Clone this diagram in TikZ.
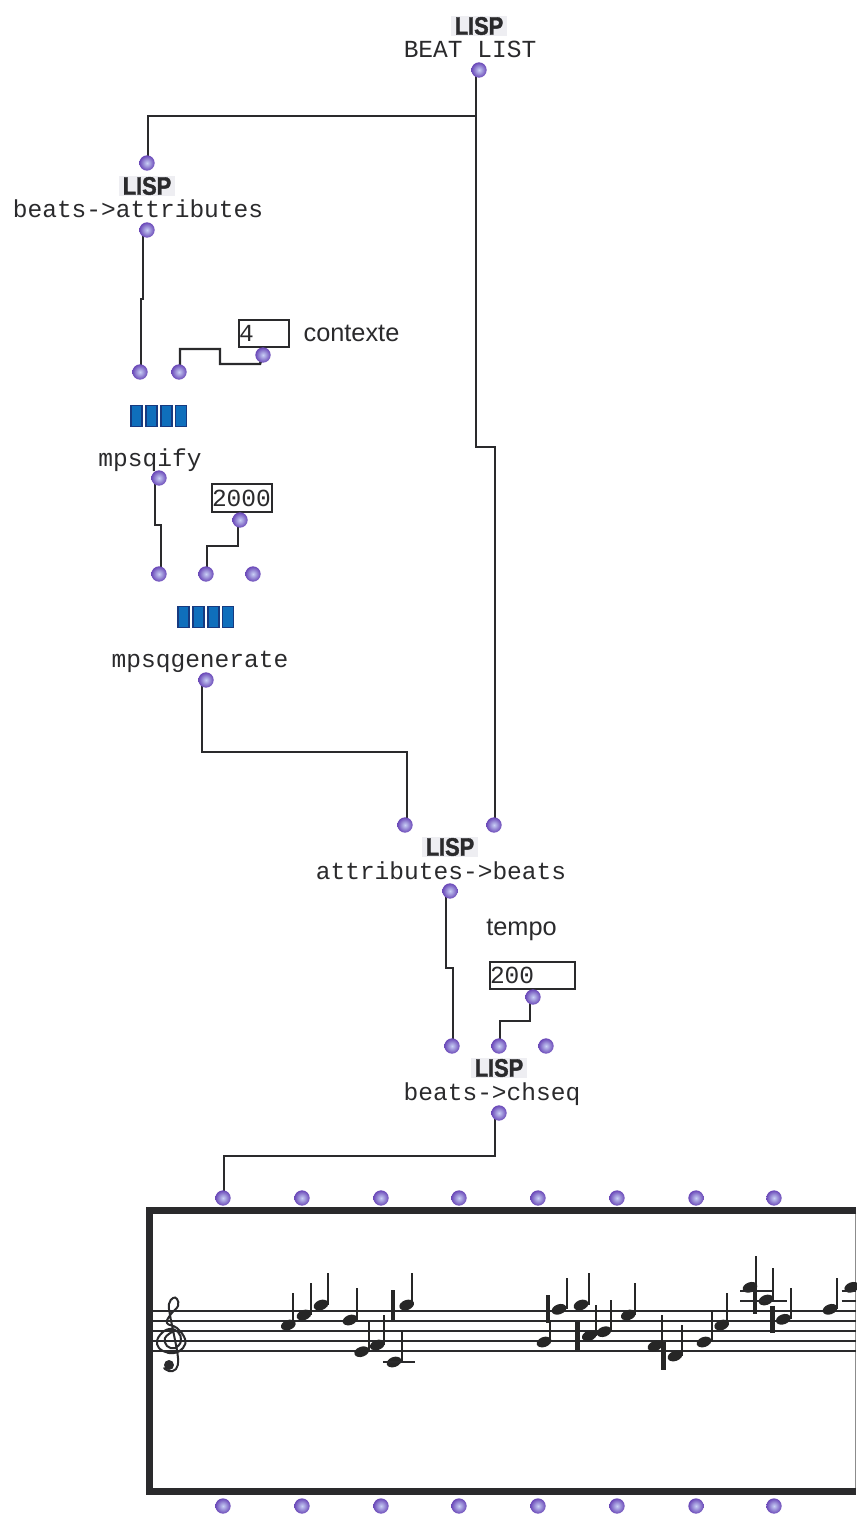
\documentclass[tikz,border=0pt]{standalone}
\usepackage{fontspec}
\usepackage{xcolor}
\usepackage{tikz}
\usetikzlibrary{backgrounds,positioning}
\newfontfamily\patchfont{Liberation Mono}
\newfontfamily\notefont{Liberation Sans}
\newfontfamily\lispfont[FakeStretch=0.86,FakeBold=1.5]{Liberation Sans Bold}
\definecolor{PatchInk}{HTML}{2A2A2C}
\definecolor{PortPurple}{HTML}{6A48B8}
\definecolor{PortLight}{HTML}{C8D0F5}
\definecolor{CellBlue}{HTML}{0F6FBC}
\definecolor{CellEdge}{HTML}{173A80}
\definecolor{LispBack}{HTML}{EEEEF2}
\tikzset{
  port/.style={circle,minimum size=11.5pt,inner sep=0pt,
    shading=radial,inner color=PortLight,outer color=PortPurple},
  wire/.style={line width=1.8pt,draw=PatchInk,line join=miter},
  lispbox/.style={fill=LispBack,minimum width=42pt,minimum height=15pt,
    inner sep=0pt,text=PatchInk,font=\lispfont\fontsize{19}{19}\selectfont},
  patchlabel/.style={anchor=base,inner sep=0pt,text=PatchInk,
    font=\patchfont\fontsize{18.4}{18.4}\selectfont},
  notelabel/.style={inner sep=0pt,text=PatchInk,
    font=\notefont\fontsize{19}{19}\selectfont},
  numbox/.style={draw=PatchInk,line width=1.5pt,fill=white,inner sep=0pt,
    minimum height=20.5pt,align=left,text=PatchInk,
    font=\patchfont\fontsize{18.4}{18.4}\selectfont},
  cell/.style={draw=CellEdge,line width=1.1pt,fill=CellBlue,inner sep=0pt,
    minimum width=8.4pt,minimum height=15.5pt},
  stave/.style={line width=1.25pt,draw=PatchInk},
  stem/.style={line width=1.6pt,draw=black!85},
  barstem/.style={line width=3.4pt,draw=black!85},
  frameline/.style={line width=5.5pt,draw=PatchInk}
}
\begin{document}
\begin{tikzpicture}[x=0.75pt,y=-0.75pt]
  \useasboundingbox (0,0) rectangle (856,1515);
  % beat list
  \node[lispbox] (lispa) at (479,26) {LISP};
  \node[patchlabel] (beatlist) at (470,57.3) {BEAT LIST};
  \node[port] (beatout) at (479,70) {};
  \coordinate (split) at (476,116);
  % beats to attributes
  \node[port] (attrin) at (147,163) {};
  \node[lispbox] (lispb) at (147,186) {LISP};
  \node[patchlabel] (attrlabel) at (138,217.3) {beats->attributes};
  \node[port] (attrout) at (147,230) {};
  % mpsqify
  \node[port] (qifyina) at (140,372) {};
  \node[port] (qifyinb) at (179,372) {};
  \node[numbox,minimum width=37.5pt,text width=37.5pt] (ctxbox) at (264,333.5) {4};
  \node[port] (ctxout) at (263,355) {};
  \node[notelabel,right=10pt of ctxbox] (ctxlabel) {contexte};
  \foreach \i/\x in {0/136.5,1/151.5,2/166.5,3/181}
    \node[cell] (qifycell\i) at (\x,416) {};
  \node[patchlabel] (qifylabel) at (150,466.7) {mpsqify};
  \node[port] (qifyout) at (159,478) {};
  % mpsqgenerate
  \node[numbox,minimum width=45pt,text width=45pt] (genbox) at (242,498) {2000};
  \node[port] (genboxout) at (240,520) {};
  \node[port] (genina) at (159,574) {};
  \node[port] (geninb) at (206,574) {};
  \node[port] (geninc) at (253,574) {};
  \foreach \i/\x in {0/183.5,1/198.5,2/213.5,3/228}
    \node[cell] (gencell\i) at (\x,617) {};
  \node[patchlabel] (genlabel) at (200,667.3) {mpsqgenerate};
  \node[port] (genout) at (206,680) {};
  % attributes to beats
  \node[port] (beatsina) at (405,825) {};
  \node[port] (beatsinb) at (494,825) {};
  \node[lispbox] (lispc) at (450,847) {LISP};
  \node[patchlabel] (beatslabel) at (441,879.5) {attributes->beats};
  \node[port] (beatsout) at (450,891) {};
  % beats to chseq
  \node[notelabel] (tempolabel) at (521.5,930) {tempo};
  \node[numbox,minimum width=63.75pt,text width=63.75pt] (tempobox) at (532.5,975.5) {200};
  \node[port] (tempoout) at (533,997) {};
  \node[port] (seqina) at (452,1046) {};
  \node[port] (seqinb) at (499,1046) {};
  \node[port] (seqinc) at (546,1046) {};
  \node[lispbox] (lispd) at (499,1068) {LISP};
  \node[patchlabel] (seqlabel) at (492,1100.5) {beats->chseq};
  \node[port] (seqout) at (499,1113) {};
  % score ports
  \foreach \i/\x in {1/223,2/302,3/381,4/459,5/538,6/617,7/696,8/774} {
    \node[port] (scorein\i) at (\x,1198) {};
    \node[port] (scoreout\i) at (\x,1506) {};
  }
  % wires
  \begin{scope}[on background layer]
    \draw[wire] (beatout.center) -- (476,70) -- (476,447) -- (495,447) -- (495,825) -- (beatsinb.center);
    \draw[wire] (split) -- (148,116) -- (148,163) -- (attrin.center);
    \draw[wire] (attrout.center) -- (143,230) -- (143,299) -- (141,299) -- (141,372) -- (qifyina.center);
    \draw[wire] (ctxout.center) -- (260,364) -- (220,364) -- (220,349) -- (180,349) -- (180,372) -- (qifyinb.center);
    \draw[wire] (qifyout.center) -- (155,478) -- (155,525) -- (161,525) -- (161,574) -- (genina.center);
    \draw[wire] (genboxout.center) -- (238,520) -- (238,546) -- (207,546) -- (207,574) -- (geninb.center);
    \draw[wire] (genout.center) -- (202,680) -- (202,752) -- (407,752) -- (407,825) -- (beatsina.center);
    \draw[wire] (beatsout.center) -- (446,891) -- (446,968) -- (453,968) -- (453,1046) -- (seqina.center);
    \draw[wire] (tempoout.center) -- (530,997) -- (530,1021) -- (500,1021) -- (500,1046) -- (seqinb.center);
    \draw[wire] (seqout.center) -- (495,1113) -- (495,1156) -- (224,1156) -- (224,1198) -- (scorein1.center);
  \end{scope}
  % score frame
  \draw[frameline] (856,1210.5) -- (149.5,1210.5) -- (149.5,1491.5) -- (856,1491.5);
  \draw[line width=0.8pt,draw=black!45] (855.5,1214) -- (855.5,1488);
  % staff
  \foreach \y in {1311,1321,1331,1341,1351}
    \draw[stave] (152,\y) -- (856,\y);
  % clef
  \draw[line width=1.5pt,draw=PatchInk,line cap=round] plot[smooth,tension=0.7] coordinates {
    (172,1332) (165,1338) (167,1346) (175,1348) (181,1341) (178,1332) (169,1329) (160,1335) (157,1344)
    (163,1351) (174,1353) (183,1348) (185,1339) (177,1328) (167,1323) (171,1314) (178,1306) (177,1299)
    (173,1298) (169,1304) (170,1315) (174,1335) (178,1358) (176,1369) (169,1371) (164,1368)};
  \fill[PatchInk] (169,1365) circle [radius=5];
  % notes: head x, head y, stem x, stem top
  \foreach \x/\y/\s/\t in {288.3/1325/293.3/1292.7,304/1315/310.7/1282.7,321/1305/328/1272.7,
    350/1320/357.3/1287.7,361.7/1351.7/369.3/1320.7,377.3/1345/384.3/1315,394/1362/402/1331,
    406.7/1305/411.7/1272.7,544/1342/550/1320,559/1309.3/566.7/1277.7,581/1305/588.7/1272.7,
    589.3/1335.7/596/1305,604/1331.7/610.7/1300,628.3/1315/635.3/1282.7,655/1346/662.3/1315,
    675/1356/682/1325,704/1342/711.7/1311,721.7/1325/726.7/1292.7,750/1287.3/756/1255.7,
    766/1300/773.3/1268.3,783.3/1319.3/790.7/1287.7,830/1309.3/837.3/1277.7} {
    \fill[black!85,shift={(\x,\y)},rotate=20] (0,0) ellipse [x radius=7.6,y radius=5];
    \draw[stem] (\s,\y) -- (\s,\t);
  }
  \fill[black!85,shift={(851.7,1287.3)},rotate=20] (0,0) ellipse [x radius=7.6,y radius=5];
  % thick stems
  \foreach \x/\a/\b in {393/1290/1320,548/1295/1323,577.7/1321.7/1350,663.7/1342/1370,755/1287/1314,772.3/1305.7/1333.3}
    \draw[barstem] (\x,\a) -- (\x,\b);
  % ledger lines
  \foreach \a/\b/\y in {383.3/415.3/1362,740/773/1290.7,740/786.7/1300.7,841.7/856/1290.7,841.7/856/1300.7}
    \draw[stave] (\a,\y) -- (\b,\y);
\end{tikzpicture}
\end{document}
